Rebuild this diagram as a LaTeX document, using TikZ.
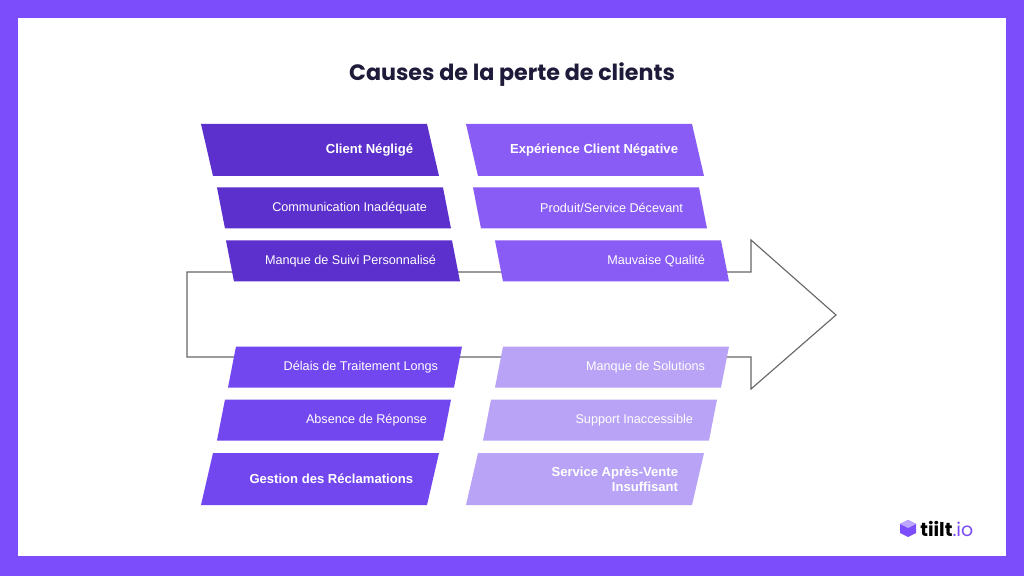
\documentclass[tikz,border=0pt]{standalone}
\usepackage{fontspec}
\setmainfont{Liberation Sans}
\newfontfamily\titlefont{Poppins}
\usetikzlibrary{positioning}
\definecolor{frame}{HTML}{7B4DFB}
\definecolor{ink}{HTML}{1E1B3A}
\definecolor{deep}{HTML}{5B30CC}
\definecolor{mid}{HTML}{8A5CF6}
\definecolor{vivid}{HTML}{7347F0}
\definecolor{pale}{HTML}{B9A3F6}
\tikzset{
  label/.style={text=white, font=\fontsize{9}{11}\selectfont, align=right, anchor=east},
  bold/.style={font=\fontsize{9.3}{11}\selectfont\bfseries},
  spine/.style={draw=black!60, line width=0.8pt},
}
% \cause{name}{cx}{cy}{h}{slant}{colour}{text}{extra style}
\newcommand{\cause}[8]{
  \fill[#6] (#2-113+#5,#3-#4/2) -- (#2+113+#5,#3-#4/2)
    -- (#2+113-#5,#3+#4/2) -- (#2-113-#5,#3+#4/2) -- cycle;
  \node[label,#8] (#1) at (#2+98,#3) {#7};
}
\begin{document}
\begin{tikzpicture}[x=0.025cm, y=-0.025cm]
  \fill[frame] (0,0) rectangle (1024,576);
  \fill[white] (18,18) rectangle (1006,556);

  \node[text=ink, font=\titlefont\fontsize{15.8}{18}\selectfont\bfseries] (title) at (512,75) {Causes de la perte de clients};

  % the arrow
  \draw[spine] (187,272) -- (751,272) -- (751,240) -- (836,315)
    -- (751,389) -- (751,357) -- (187,357) -- cycle;

  % upper causes
  \cause{neglect}{320}{150}{52}{-6}{deep}{Client Négligé}{bold}
  \cause{comm}{334}{208}{41}{-4}{deep}{Communication Inadéquate}{}
  \cause{follow}{343}{261}{41}{-4}{deep}{Manque de Suivi Personnalisé}{}
  \cause{bad}{585}{150}{52}{-6}{mid}{Expérience Client Négative}{bold}
  \cause{product}{590}{208}{41}{-4}{mid}{Produit/Service Décevant}{}
  \cause{quality}{612}{261}{41}{-4}{mid}{Mauvaise Qualité}{}

  % lower causes
  \cause{delay}{345}{367}{41}{4}{vivid}{Délais de Traitement Longs}{}
  \cause{noreply}{334}{420}{41}{4}{vivid}{Absence de Réponse}{}
  \cause{claims}{320}{479}{52}{6}{vivid}{Gestion des Réclamations}{bold}
  \cause{solutions}{612}{367}{41}{4}{pale}{Manque de Solutions}{}
  \cause{support}{600}{420}{41}{4}{pale}{Support Inaccessible}{}
  \cause{aftersales}{585}{479}{52}{6}{pale}{Service Après-Vente\\Insuffisant}{bold}

  % logo
  \fill[frame] (900,524) -- (908,520) -- (916,524) -- (916,533) -- (908,537) -- (900,533) -- cycle;
  \fill[frame!50] (900,524) -- (908,520) -- (916,524) -- (908,528) -- cycle;
  \node[anchor=west, inner sep=0, font=\titlefont\fontsize{13.5}{15}\selectfont] (logo) at (920,529)
    {\textbf{tiilt}\textcolor{frame}{.io}};
\end{tikzpicture}
\end{document}
